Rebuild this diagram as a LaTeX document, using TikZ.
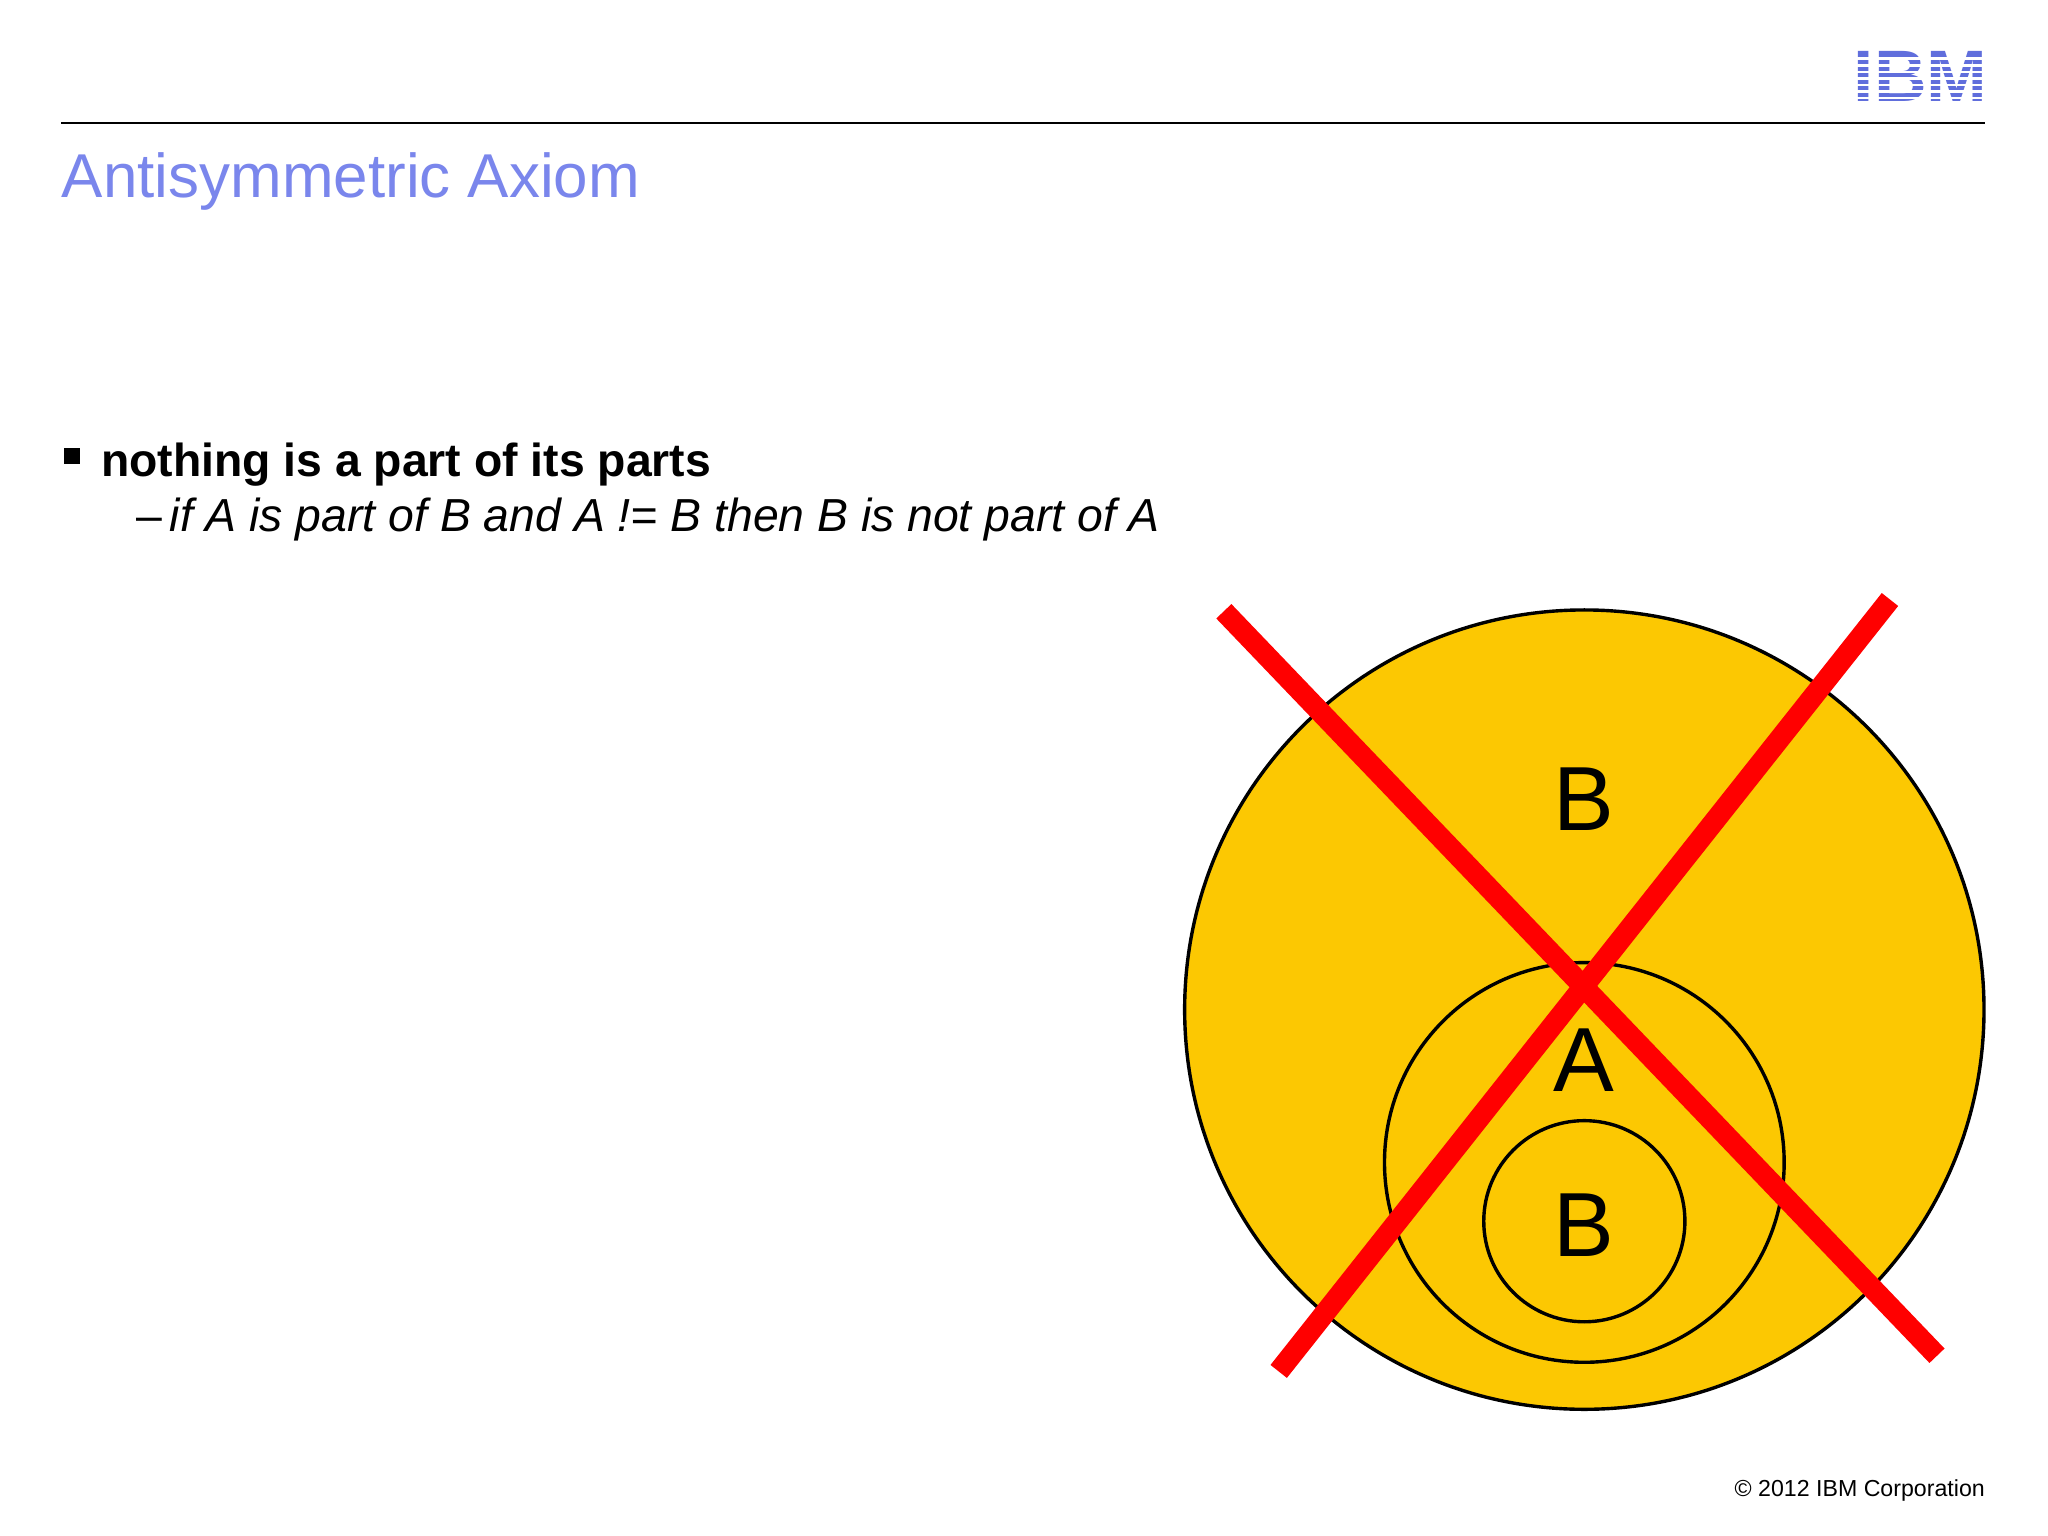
\documentclass[tikz,border=0pt]{standalone}
\usepackage{fontspec}
\setmainfont{Liberation Sans}
\definecolor{titleblue}{RGB}{122,134,236}
\definecolor{ibmblue}{RGB}{96,110,220}
\definecolor{fillyellow}{RGB}{252,200,2}
\begin{document}
\begin{tikzpicture}[x=0.5bp,y=-0.5bp,
  circ/.style={draw=black,line width=1.3bp},
  cross/.style={draw=red,line width=8bp},
  lbl/.style={font=\fontsize{35}{35}\selectfont,inner sep=0pt}]
\useasboundingbox[fill=white] (0,0) rectangle (1568,1176);
\draw[line width=0.7bp] (47,94) -- (1520,94);
\node[anchor=base west,inner sep=0pt,text=titleblue,font=\fontsize{23.8}{25}\selectfont] (title) at (47,151) {Antisymmetric Axiom};
\node[anchor=base east,inner sep=0pt,text=ibmblue,font=\fontsize{28}{28}\bfseries\selectfont] (ibm) at (1522,78) {IBM};
\foreach \yy in {44,49,54,59,64,69,74}{\fill[white] (1415,\yy) rectangle (1525,\yy+2);}
\fill (49,343) rectangle (61,355);
\node[anchor=base west,inner sep=0pt,font=\fontsize{17.8}{18}\bfseries\selectfont] (b1) at (77,365) {nothing is a part of its parts};
\node[anchor=base west,inner sep=0pt,font=\fontsize{17.8}{18}\selectfont] (b2) at (104,407) {–\,\itshape if A is part of B and A != B then B is not part of A};
\node[circ,fill=fillyellow,circle,minimum size=306bp,inner sep=0pt] (big) at (1213,773) {};
\node[circ,circle,minimum size=153bp,inner sep=0pt] (mid) at (1213,890) {};
\node[circ,circle,minimum size=77bp,inner sep=0pt] (sml) at (1213,935) {};
\node[lbl] (lB) at (1213,612) {B};
\node[lbl] (lA) at (1213,812) {A};
\node[lbl] (lB2) at (1213,938) {B};
\coordinate (c1) at (937,468); \coordinate (c2) at (1483,1038);
\coordinate (c3) at (1447,459); \coordinate (c4) at (979,1050);
\draw[cross] (c1) -- (c2);
\draw[cross] (c3) -- (c4);
\node[anchor=base east,inner sep=0pt,font=\fontsize{8.9}{9}\selectfont] (copy) at (1520,1146) {© 2012 IBM Corporation};
\end{tikzpicture}
\end{document}
